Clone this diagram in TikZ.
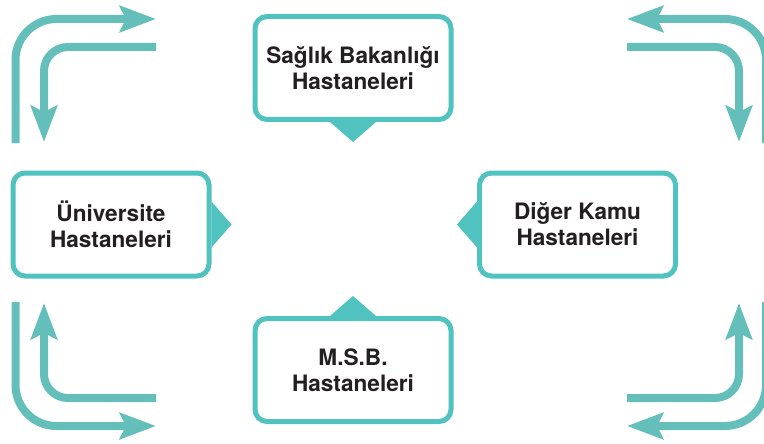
\documentclass[tikz,border=0pt]{standalone}
\usepackage{fontspec}
\setmainfont{TeX Gyre Heros}
\usetikzlibrary{arrows.meta}
\definecolor{turquoise}{RGB}{80,194,192}
\definecolor{turquoiseclair}{RGB}{100,190,185}
\definecolor{texte}{RGB}{35,31,32}
\begin{document}
\begin{tikzpicture}[x=1pt,y=-1pt]
% Styles
\tikzstyle{cadre}=[draw=turquoise,fill=white,line width=5pt,rounded corners=12pt,
  minimum width=196pt,minimum height=103pt,inner sep=0pt,align=center,
  text=texte,font=\fontsize{22.6}{26}\selectfont\bfseries]
\tikzstyle{pointe}=[fill=turquoise]
\tikzstyle{fleche}=[draw=turquoiseclair,line width=8pt,
  -{Stealth[length=36pt,width=26pt,inset=6pt]}]
% Dimensions
\def\Haut{20pt}   % hauteur des pointes
\def\Demi{23pt}   % demi-base des pointes
\def\Rext{41}     % rayon des grandes fleches
\def\Rint{24}     % rayon des petites fleches
% Cadre de la figure
\clip (0,0) rectangle (764,444);
% Les quatre cadres
\node[cadre] (sante) at (353,68)    {Sağlık Bakanlığı\\Hastaneleri};
\node[cadre] (univ)  at (111,224.5) {Üniversite\\Hastaneleri};
\node[cadre] (kamu)  at (577.5,224.5) {Diğer Kamu\\Hastaneleri};
\node[cadre] (msb)   at (353,370)   {M.S.B.\\Hastaneleri};
% Pointes vers le centre
\fill[pointe] ([xshift=-\Demi]sante.south) -- ([xshift=\Demi]sante.south)
  -- ([yshift=-\Haut]sante.south) -- cycle;
\fill[pointe] ([yshift=-\Demi]univ.east) -- ([yshift=\Demi]univ.east)
  -- ([xshift=\Haut]univ.east) -- cycle;
\fill[pointe] ([yshift=-\Demi]kamu.west) -- ([yshift=\Demi]kamu.west)
  -- ([xshift=-\Haut]kamu.west) -- cycle;
\fill[pointe] ([xshift=-\Demi]msb.north) -- ([xshift=\Demi]msb.north)
  -- ([yshift=\Haut]msb.north) -- cycle;
% Flèches en haut à gauche
\draw[fleche,rounded corners=\Rext] (15.5,143) |- (156,19);
\draw[fleche,rounded corners=\Rint] (156,47) -| (44,142);
% Flèches en haut à droite
\draw[fleche,rounded corners=\Rext] (766,143) |- (627,19);
\draw[fleche,rounded corners=\Rint] (627,47) -| (739,142);
% Flèches en bas à gauche
\draw[fleche,rounded corners=\Rext] (15.5,302) |- (156,426);
\draw[fleche,rounded corners=\Rint] (156,398) -| (44,303);
% Flèches en bas à droite
\draw[fleche,rounded corners=\Rext] (766,302) |- (627,426);
\draw[fleche,rounded corners=\Rint] (627,398) -| (739,303);
\end{tikzpicture}
\end{document}
